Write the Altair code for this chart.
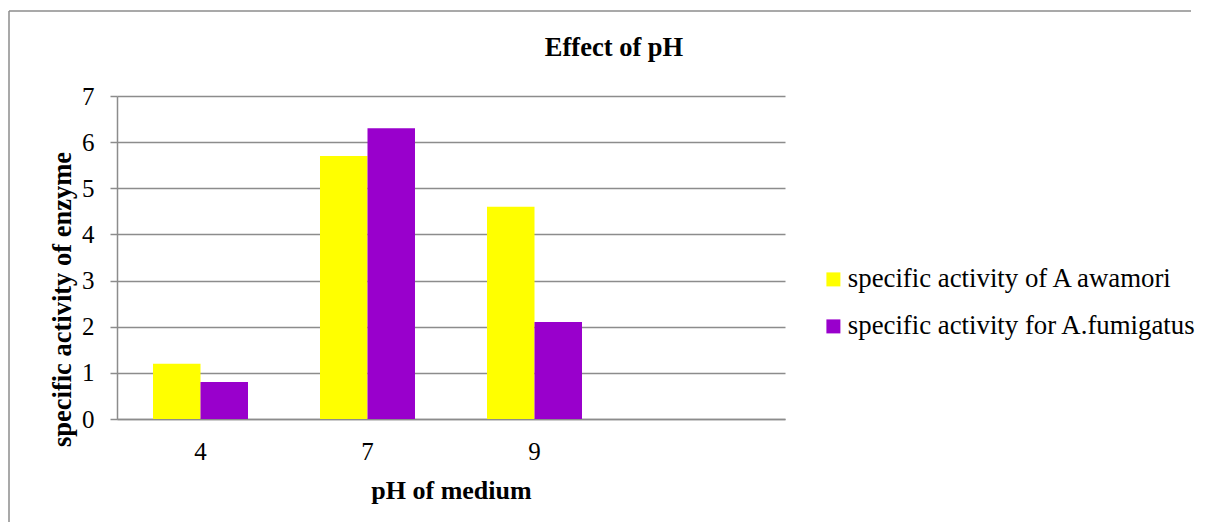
import altair as alt
import pandas as pd

chart_title = "Effect of pH"
categories = ["4", "7", "9"]
empty_slot = " "
series = ["specific activity of A awamori", "specific activity for A.fumigatus"]
awamori = [1.2, 5.7, 4.6]
fumigatus = [0.8, 6.3, 2.1]
colors = ["#ffff00", "#9900cc"]
y_ticks = [0, 1, 2, 3, 4, 5, 6, 7]

rows = []
for c, a, f in zip(categories, awamori, fumigatus):
    rows.append({"ph": c, "series": series[0], "value": a})
    rows.append({"ph": c, "series": series[1], "value": f})
df = pd.DataFrame(rows)

FONT = "Liberation Serif"
GRID = "#8c8c8c"

bars = alt.Chart(df).mark_bar().encode(
    x=alt.X(
        "ph:N",
        sort=None,
        scale=alt.Scale(domain=categories + [empty_slot], paddingInner=0, paddingOuter=0),
        axis=alt.Axis(
            title="pH of medium", labelAngle=0, ticks=False, grid=False,
            domainColor=GRID, domainWidth=1.5,
            labelFont=FONT, labelFontSize=25, labelColor="#000000", labelPadding=20,
            titleFont=FONT, titleFontSize=26, titleFontWeight="bold", titleColor="#000000",
            titlePadding=13,
        ),
    ),
    xOffset=alt.XOffset(
        "series:N",
        scale=alt.Scale(domain=series, paddingOuter=0.758, paddingInner=0),
    ),
    y=alt.Y(
        "value:Q",
        scale=alt.Scale(domain=[0, 7], nice=False),
        axis=alt.Axis(
            values=y_ticks, title="specific activity of enzyme",
            domainColor=GRID, domainWidth=1.5, tickColor=GRID, tickWidth=1.5, tickSize=7,
            gridColor=GRID, gridWidth=1.5,
            labelFont=FONT, labelFontSize=25, labelColor="#000000", labelPadding=16,
            labelBaseline="middle",
            titleFont=FONT, titleFontSize=26.5, titleFontWeight="bold", titleColor="#000000",
            titlePadding=5, titleY=203,
        ),
    ),
    color=alt.Color(
        "series:N",
        scale=alt.Scale(domain=series, range=colors),
        legend=alt.Legend(
            title=None, orient="none", legendX=703, legendY=170,
            symbolType="square", symbolSize=196, symbolStrokeWidth=0,
            labelFont=FONT, labelFontSize=26.8, labelColor="#000000", labelOffset=1,
            rowPadding=19, padding=0, labelLimit=500,
        ),
    ),
)

one_row = alt.Data(values=[{"a": 1}])

frame_top = alt.Chart(one_row).mark_rule(stroke=GRID, strokeWidth=1.5).encode(
    x=alt.value(-108), x2=alt.value(1074), y=alt.value(-85)
)
frame_left = alt.Chart(one_row).mark_rule(stroke=GRID, strokeWidth=1.5).encode(
    x=alt.value(-108), y=alt.value(-85), y2=alt.value(500)
)
title_text = alt.Chart(one_row).mark_text(
    font=FONT, fontSize=26.5, fontWeight="bold", color="#000000",
    align="center", baseline="alphabetic",
).encode(
    x=alt.value(497), y=alt.value(-40), text=alt.value(chart_title)
)

chart = alt.layer(frame_top, frame_left, title_text, bars).properties(
    width=668,
    height=323,
    padding={"left": 109, "top": 88, "right": 415, "bottom": 103},
    autosize=alt.AutoSizeParams(type="none"),
).configure_view(stroke=None)

chart.save("out.html", embed_options={"renderer": "svg", "actions": False})
